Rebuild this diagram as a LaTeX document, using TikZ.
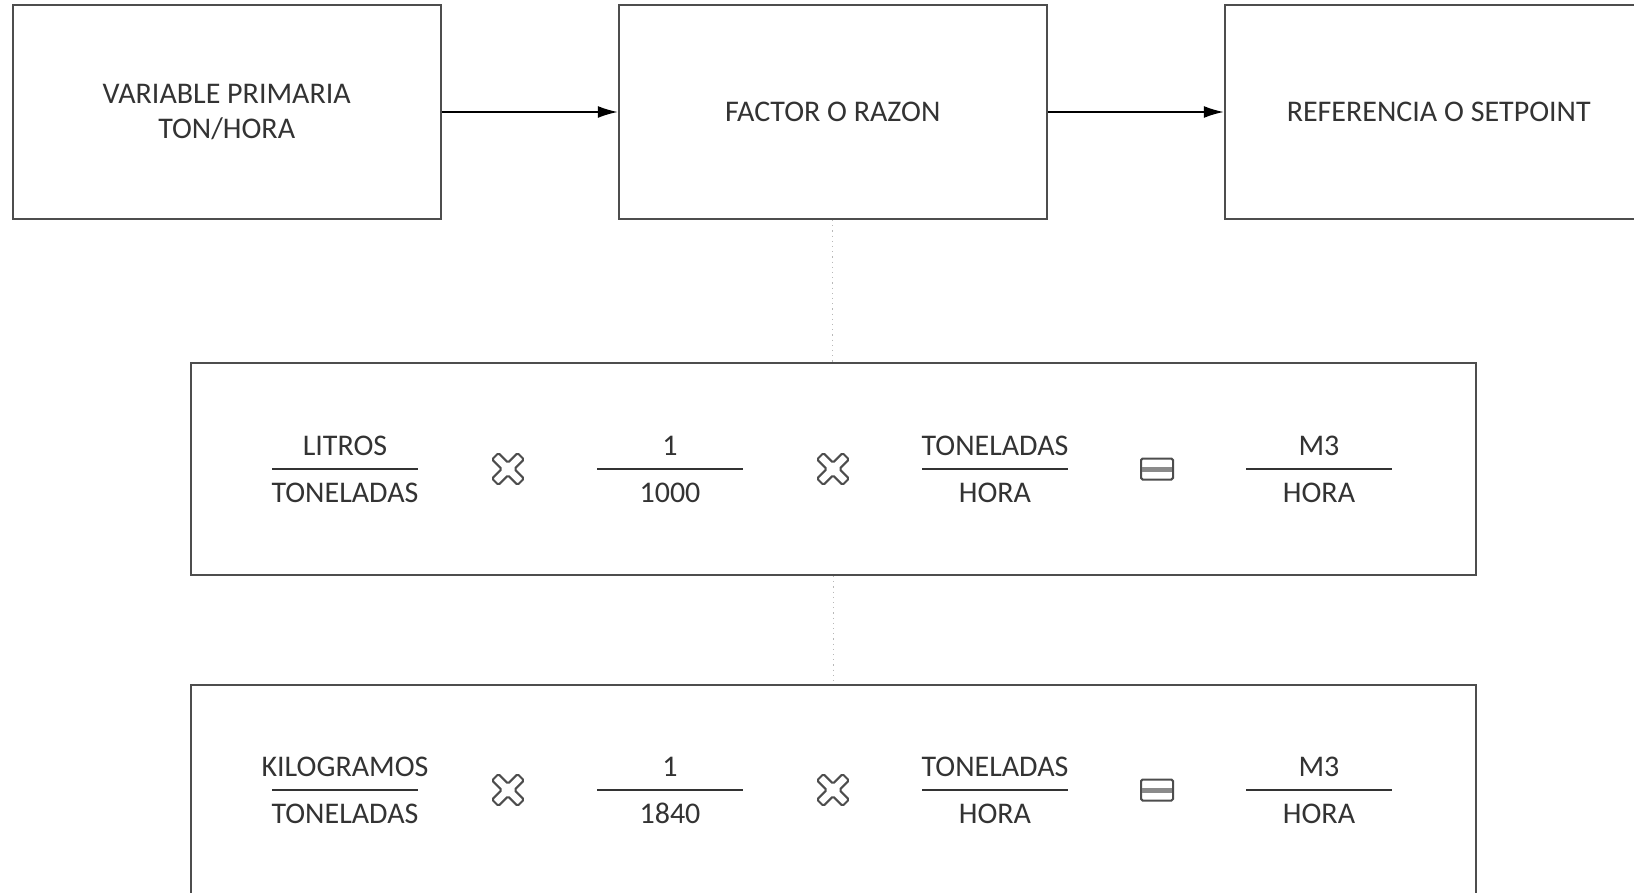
\documentclass[tikz,border=0pt]{standalone}
\usepackage{fontspec}
\setmainfont{Carlito}
\usetikzlibrary{arrows.meta,positioning}
\definecolor{cLine}{HTML}{4d4d4d}
\definecolor{cText}{HTML}{333333}
\definecolor{cDot}{HTML}{b8b8b8}
\definecolor{cBar}{HTML}{8a8a8a}
\tikzset{
  blockbox/.style={draw=cLine,line width=1pt,fill=white,minimum width=214pt,
              minimum height=107pt,align=center,inner sep=0pt,text=cText,
              font=\fontsize{15}{17.7}\selectfont},
  widebox/.style={blockbox,minimum width=642.5pt,minimum height=106pt},
  frtext/.style={inner sep=0pt,text=cText,text height=10pt,text depth=0pt,
              font=\fontsize{15}{17}\selectfont},
  frline/.style={draw=cText,line width=0.8pt},
  flow/.style={-{Latex[length=10pt,width=6pt]},line width=0.8pt,black},
  link/.style={draw=cDot,dotted,line width=0.6pt},
  symb/.style={draw=cLine,line width=1pt,fill=white,rounded corners=0.8pt},
  timesmark/.pic={
    \draw[symb,rotate=45] (4.5,4.5) -- (18,4.5) -- (18,-4.5) -- (4.5,-4.5)
      -- (4.5,-18) -- (-4.5,-18) -- (-4.5,-4.5) -- (-18,-4.5) -- (-18,4.5)
      -- (-4.5,4.5) -- (-4.5,18) -- (4.5,18) -- cycle;},
  equalmark/.pic={
    \draw[symb] (-16,-10.5) rectangle (16,10.5);
    \fill[cBar] (-15,-2.5) rectangle (15,2.5);},
}
% fraction: name, x, y of the bar, numerator, denominator
\newcommand{\fracnode}[5]{%
  \coordinate (#1) at (#2,#3);
  \node[frtext] (#1n) at (#2,#3-24) {#4};
  \node[frtext] (#1d) at (#2,#3+23) {#5};
  \draw[frline] ([xshift=-36.5pt]#1) -- ([xshift=36.5pt]#1);}

\begin{document}
\begin{tikzpicture}[x=0.5pt,y=-0.5pt]
  \useasboundingbox (0,0) rectangle (1634,893);
  \clip (0,0) rectangle (1634,893);
  % top row
  \node[blockbox] (var) at (226.75,112) {VARIABLE PRIMARIA\\TON/HORA};
  \node[blockbox,right=88pt of var] (fac) {FACTOR O RAZON};
  \node[blockbox,right=88pt of fac] (ref) {REFERENCIA O SETPOINT};
  \draw[flow] (var) -- (fac);
  \draw[flow] (fac) -- (ref);
  % conversion boxes
  \node[widebox] (conA) at (833.5,469) {};
  \node[widebox] (conB) at (833.5,791) {};
  \draw[link] (fac.south) -- (fac.south |- conA.north);
  \draw[link] (conA.south) -- (conA.south |- conB.north);
  % first conversion
  \fracnode{aA}{345}{469}{LITROS}{TONELADAS}
  \fracnode{aB}{670}{469}{1}{1000}
  \fracnode{aC}{995}{469}{TONELADAS}{HORA}
  \fracnode{aD}{1319}{469}{M3}{HORA}
  \pic at (508,469) {timesmark};
  \pic at (833,469) {timesmark};
  \pic at (1157,469) {equalmark};
  % second conversion
  \fracnode{bA}{345}{790}{KILOGRAMOS}{TONELADAS}
  \fracnode{bB}{670}{790}{1}{1840}
  \fracnode{bC}{995}{790}{TONELADAS}{HORA}
  \fracnode{bD}{1319}{790}{M3}{HORA}
  \pic at (508,790) {timesmark};
  \pic at (833,790) {timesmark};
  \pic at (1157,790) {equalmark};
\end{tikzpicture}
\end{document}
